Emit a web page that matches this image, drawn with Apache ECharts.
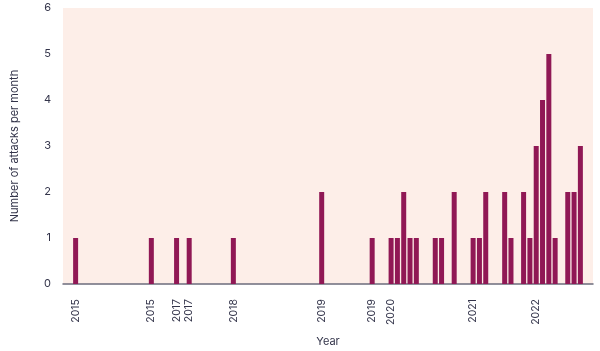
<!DOCTYPE html>
<html>
<head>
<meta charset="utf-8">
<script src="https://cdn.jsdelivr.net/npm/echarts@6/dist/echarts.min.js"></script>
<style>
  html, body { margin: 0; padding: 0; background: #fff; }
  #chart { width: 600px; height: 351px; }
</style>
</head>
<body>
<div id="chart"></div>
<script>
// number of monthly slots on the x axis
const slotCount = 85;

// slots that hold a bar, and the attacks in that month
const barSlots = [2, 14, 18, 20, 27, 41, 49, 52, 53, 54, 55, 56, 59, 60, 62, 65, 66, 67, 70, 71, 73, 74, 75, 76, 77, 78, 80, 81, 82];
const barValues = [1, 1, 1, 1, 1, 2, 1, 1, 1, 2, 1, 1, 1, 1, 2, 1, 1, 2, 2, 1, 2, 1, 3, 4, 5, 1, 2, 2, 3];

// year tick labels and the slots they sit under
const labelSlots = [2, 14, 18, 20, 27, 41, 49, 52, 65, 75];
const labelTexts = ["2015", "2015", "2017", "2017", "2018", "2019", "2019", "2020", "2021", "2022"];

const yTicks = [0, 1, 2, 3, 4, 5, 6];

const categories = [];
const values = [];
const tickText = [];
for (let i = 0; i < slotCount; i++) {
  categories.push("s" + i);
  values.push(0);
  tickText.push("");
}
barSlots.forEach((s, i) => { values[s] = barValues[i]; });
labelSlots.forEach((s, i) => { tickText[s] = labelTexts[i]; });

const chart = echarts.init(document.getElementById("chart"));
const textColor = "#33344a";
const font = "Inter, 'Noto Sans', sans-serif";

chart.setOption({
  animation: false,
  textStyle: { fontFamily: font },
  grid: {
    left: 63,
    right: 7,
    top: 8,
    bottom: 67,
    containLabel: false,
    outerBoundsMode: "none",
    show: true,
    backgroundColor: "#fdeee8",
    borderWidth: 0,
  },
  xAxis: {
    type: "category",
    data: categories,
    boundaryGap: false,
    name: "Year",
    nameLocation: "middle",
    nameGap: 52,
    nameTextStyle: { color: textColor, fontSize: 11, fontFamily: font },
    axisLine: { show: true, lineStyle: { color: "#6c6c7c", width: 1.5 } },
    axisTick: { show: false },
    axisLabel: {
      interval: 0,
      rotate: 90,
      margin: 15,
      color: textColor,
      fontSize: 10.5,
      fontFamily: font,
      formatter: (v, idx) => tickText[idx],
    },
    splitLine: { show: false },
  },
  yAxis: {
    type: "value",
    min: yTicks[0],
    max: yTicks[yTicks.length - 1],
    interval: 1,
    name: "Number of attacks per month",
    nameLocation: "middle",
    nameGap: 43,
    nameTextStyle: { color: textColor, fontSize: 11, fontFamily: font },
    axisLine: { show: false },
    axisTick: { show: false },
    axisLabel: { color: textColor, fontSize: 11, margin: 12, fontFamily: font },
    splitLine: { show: false },
  },
  series: [
    {
      type: "bar",
      data: values,
      barWidth: 5,
      itemStyle: { color: "#901855" },
    },
  ],
});
</script>
</body>
</html>
